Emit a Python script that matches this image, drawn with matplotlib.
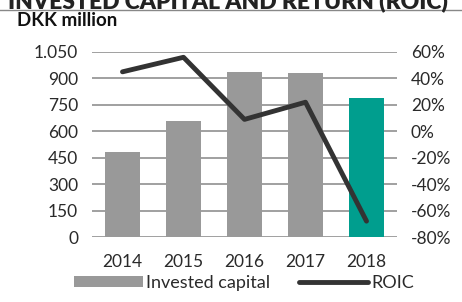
import matplotlib.pyplot as plt
import numpy as np

plt.rcParams['font.family'] = ['Lato', 'DejaVu Sans']

years = ['2014', '2015', '2016', '2017', '2018']
invested_capital = [485, 660, 938, 932, 787]
roic = [45, 56, 9, 22, -68]
bar_colors = ['#999999', '#999999', '#999999', '#999999', '#009e8e']

fig = plt.figure(figsize=(4.62, 3.02), dpi=100)
ax = fig.add_axes([92/462, 1 - 237/302, 305/462, 185/302])

x = np.arange(len(years))
ax.bar(x, invested_capital, width=0.58, color=bar_colors, zorder=3,
       label='Invested capital')
ax.set_xlim(-0.5, 4.5)
ax.set_ylim(0, 1050)
ax.set_yticks(np.arange(0, 1051, 150))
ax.set_yticklabels(['0', '150', '300', '450', '600', '750', '900', '1.050'])
ax.set_xticks(x)
ax.set_xticklabels(years)
ax.grid(axis='y', color='#999999', linewidth=1.3, zorder=0)
ax.tick_params(length=0, labelsize=12.5, colors='#2a2a2a', pad=10)
ax.tick_params(axis='x', pad=12)
for s in ax.spines.values():
    s.set_visible(False)

ax2 = ax.twinx()
ax2.plot(x, roic, color='#333333', linewidth=3.5, solid_capstyle='round',
         zorder=5, label='ROIC')
ax2.set_ylim(-80, 60)
ax2.set_yticks(np.arange(-80, 61, 20))
ax2.set_yticklabels([f'{v}%' for v in range(-80, 61, 20)])
ax2.tick_params(length=0, labelsize=12.5, colors='#2a2a2a', pad=10)
for s in ax2.spines.values():
    s.set_visible(False)

# Title (cut off at the top) and rule
fig.text(8/462, 1 - 1/302, 'INVESTED CAPITAL AND RETURN (ROIC)', fontsize=16.5,
         fontweight='heavy', va='center', ha='left', color='#222222')
fig.add_artist(plt.Line2D([0, 1], [1 - 10/302, 1 - 10/302], color='#888888',
                          linewidth=1))
fig.text(17/462, 1 - 20/302, 'DKK million', fontsize=13.5, fontweight='bold',
         va='center', ha='left', color='#111111')

h1, l1 = ax.get_legend_handles_labels()
h2, l2 = ax2.get_legend_handles_labels()
fig.legend(h1[:1] + h2, l1[:1] + l2, loc='center', ncol=2,
           bbox_to_anchor=(244/462, 1 - 283/302), frameon=False,
           fontsize=13, handlelength=3.8, handleheight=0.5,
           handletextpad=0.2, columnspacing=1.6, labelcolor='#2a2a2a')

fig.savefig('out.png', dpi=100)
